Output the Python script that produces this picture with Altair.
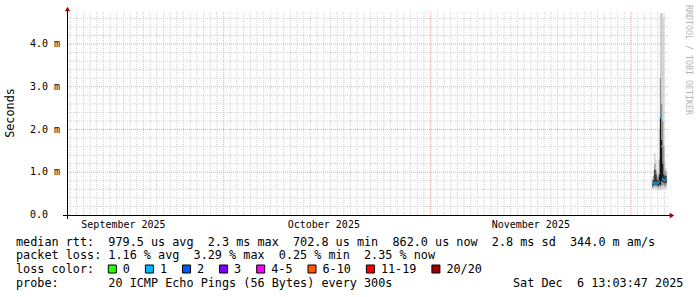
import altair as alt
import pandas as pd
from datetime import datetime, timedelta

# ---------------- data ----------------
start = datetime(2025, 9, 7, 13, 3, 47)
end = datetime(2025, 12, 6, 13, 3, 47)
STEP_H = 4  # hours per consolidated sample

sample_times = ["2025-12-04 04:00", "2025-12-04 08:00", "2025-12-04 12:00", "2025-12-04 16:00",
                "2025-12-04 20:00", "2025-12-05 00:00", "2025-12-05 04:00", "2025-12-05 08:00",
                "2025-12-05 12:00", "2025-12-05 16:00", "2025-12-05 20:00", "2025-12-06 00:00",
                "2025-12-06 04:00"]
rtt_min = [0.60, 0.62, 0.62, 0.60, 0.60, 0.58, 0.60, 0.58, 0.60, 0.60, 0.62, 0.60, 0.62]
rtt_p10 = [0.64, 0.66, 0.68, 0.66, 0.65, 0.64, 0.66, 0.66, 0.70, 0.68, 0.70, 0.66, 0.68]
rtt_p25 = [0.68, 0.70, 0.72, 0.70, 0.70, 0.68, 0.72, 0.70, 0.80, 0.78, 0.76, 0.74, 0.74]
rtt_med = [0.72, 0.75, 0.76, 0.73, 0.76, 0.74, 0.78, 2.28, 1.60, 0.85, 0.82, 0.80, 0.85]
rtt_p75 = [0.76, 0.82, 1.06, 0.95, 0.82, 0.80, 0.95, 2.30, 1.75, 1.20, 0.95, 0.90, 0.92]
rtt_p90 = [0.82, 0.92, 1.20, 1.05, 0.90, 0.88, 1.30, 3.20, 2.60, 2.20, 1.60, 1.05, 1.00]
rtt_max = [0.90, 1.05, 1.45, 1.30, 1.00, 0.98, 2.00, 4.72, 4.72, 4.72, 4.60, 1.25, 1.10]
lost_pings = [1, 1, 1, 1, 1, 1, 1, 1, 1, 1, 1, 1, 1]

loss_labels = ["0", "1", "2", "3", "4-5", "6-10", "11-19", "20/20"]
loss_upper = [0, 1, 2, 3, 5, 10, 19, 20]
loss_colors = ["#26ff00", "#00b8ff", "#0059ff", "#7e00ff", "#ff00ff", "#ff5500", "#ff0000", "#a10000"]

y_tick_values = [0, 1, 2, 3, 4]
y_tick_labels = ["0.0", "1.0 m", "2.0 m", "3.0 m", "4.0 m"]
month_labels = ["September 2025", "October 2025", "November 2025"]
month_label_dates = ["2025-09-16 00:00", "2025-10-16 00:00", "2025-11-16 00:00"]
month_starts = ["2025-10-01 00:00", "2025-11-01 00:00", "2025-12-01 00:00"]

legend_rows = [
    "median rtt:  979.5 us avg  2.3 ms max  702.8 us min  862.0 us now  2.8 ms sd  344.0 m am/s",
    "packet loss: 1.16 % avg  3.29 % max  0.25 % min  2.35 % now",
    "loss color:",
    "probe:       20 ICMP Echo Pings (56 Bytes) every 300s",
]
stamp = "Sat Dec  6 13:03:47 2025"
watermark = "RRDTOOL / TOBI OETIKER"

# ---------------- helpers ----------------
W, H = 601, 203
Y_MAX = 4.75
SPAN = (end - start).total_seconds() / 86400
FONT = "DejaVu Sans Mono"
CH = 7.1  # legend char advance


def keep_spaces(s):
    return s.replace(" ", "\u00a0")


def to_day(s):
    return (datetime.strptime(s, "%Y-%m-%d %H:%M") - start).total_seconds() / 86400


xs = alt.Scale(domain=[0, SPAN], nice=False, zero=False)
ys = alt.Scale(domain=[0, Y_MAX], nice=False, zero=True)


def color_for(n):
    for up, c in zip(loss_upper, loss_colors):
        if n <= up:
            return c
    return loss_colors[-1]


smoke = pd.DataFrame({
    "d0": [to_day(t) for t in sample_times],
    "mn": rtt_min, "p10": rtt_p10, "p25": rtt_p25, "med": rtt_med,
    "p75": rtt_p75, "p90": rtt_p90, "mx": rtt_max,
    "col": [color_for(n) for n in lost_pings],
})
smoke["d1"] = smoke["d0"] + STEP_H / 24.0

# grid positions
first_midnight = datetime(2025, 9, 8)
minor_days = []
d = first_midnight
while d < end:
    minor_days.append((d - start).total_seconds() / 86400)
    d += timedelta(days=1)
grid_minor_x = pd.DataFrame({"d": minor_days})
grid_major_x = pd.DataFrame({"d": [to_day(s) for s in month_starts]})
grid_minor_y = pd.DataFrame({"v": [round(0.2 * i, 1) for i in range(1, 24) if i % 5 != 0]})
grid_major_y = pd.DataFrame({"v": [1, 2, 3, 4]})

layers = []
layers.append(alt.Chart(grid_minor_x).mark_rule(color="#d0d0d0", strokeDash=[1, 1], strokeWidth=1)
              .encode(x=alt.X("d:Q", scale=xs, axis=None)))
layers.append(alt.Chart(grid_minor_y).mark_rule(color="#d0d0d0", strokeDash=[1, 1], strokeWidth=1)
              .encode(y=alt.Y("v:Q", scale=ys, axis=None)))
layers.append(alt.Chart(grid_major_x).mark_rule(color="#f0b4b4", strokeDash=[1, 1], strokeWidth=1)
              .encode(x=alt.X("d:Q", scale=xs, axis=None)))
layers.append(alt.Chart(grid_major_y).mark_rule(color="#e8a4a4", strokeDash=[1, 1], strokeWidth=1)
              .encode(y=alt.Y("v:Q", scale=ys, axis=None)))

# smoke
for lo, hi, c in [("mn", "mx", "#cdcdcd"), ("p10", "p90", "#8c8c8c"), ("p25", "p75", "#141414")]:
    layers.append(alt.Chart(smoke).mark_rect(color=c)
                  .encode(x=alt.X("d0:Q", scale=xs, axis=None), x2="d1:Q",
                          y=alt.Y(f"{lo}:Q", scale=ys, axis=None), y2=f"{hi}:Q"))
layers.append(alt.Chart(smoke).mark_rule(strokeWidth=2)
              .encode(x=alt.X("d0:Q", scale=xs, axis=None), x2="d1:Q",
                      y=alt.Y("med:Q", scale=ys, axis=None),
                      color=alt.Color("col:N", scale=None, legend=None)))

# axes lines + arrows
AX = "#000000"
ARROW = "#990000"
layers.append(alt.Chart().mark_rule(color=AX, strokeWidth=1)
              .encode(x=alt.value(-4), x2=alt.value(603), y=alt.value(203.5)))
layers.append(alt.Chart().mark_rule(color=AX, strokeWidth=1)
              .encode(x=alt.value(0.5), y=alt.value(-2), y2=alt.value(207)))
layers.append(alt.Chart().mark_point(shape="triangle-right", filled=True, color=ARROW, size=28, opacity=1)
              .encode(x=alt.value(605), y=alt.value(203.5)))
layers.append(alt.Chart().mark_point(shape="triangle-up", filled=True, color=ARROW, size=28, opacity=1)
              .encode(x=alt.value(0.5), y=alt.value(-3)))

# y tick labels
ylab = pd.DataFrame({"v": y_tick_values, "t": [keep_spaces(t) for t in y_tick_labels]})
layers.append(alt.Chart(ylab).mark_text(font=FONT, fontSize=10, align="left", baseline="middle", color="#000")
              .encode(x=alt.value(-37), y=alt.Y("v:Q", scale=ys, axis=None), text="t:N"))
# month labels
mlab = pd.DataFrame({"d": [to_day(s) for s in month_label_dates], "t": month_labels})
layers.append(alt.Chart(mlab).mark_text(font=FONT, fontSize=10, align="center", baseline="middle", color="#000")
              .encode(x=alt.X("d:Q", scale=xs, axis=None), y=alt.value(213), text="t:N"))
# y title
layers.append(alt.Chart().mark_text(font=FONT, fontSize=11.8, angle=270, align="center", baseline="middle",
                                    color="#000", text="Seconds")
              .encode(x=alt.value(-57), y=alt.value(101)))
# watermark
layers.append(alt.Chart().mark_text(font=FONT, fontSize=8.3, angle=90, align="left", baseline="middle",
                                    color="#b4b4b4", text=watermark)
              .encode(x=alt.value(621), y=alt.value(-7)))

# legend rows
row_y = [230, 243, 257, 271]
for txt, yy in zip(legend_rows, row_y):
    layers.append(alt.Chart().mark_text(font=FONT, fontSize=11.8, align="left", baseline="middle",
                                        color="#000", text=keep_spaces(txt))
                  .encode(x=alt.value(-51), y=alt.value(yy)))
layers.append(alt.Chart().mark_text(font=FONT, fontSize=11.8, align="left", baseline="middle",
                                    color="#000", text=keep_spaces(stamp))
              .encode(x=alt.value(446), y=alt.value(271)))

# loss color boxes
bx = -51 + 13 * CH
for lab, c in zip(loss_labels, loss_colors):
    layers.append(alt.Chart().mark_square(size=64, color=c, stroke="#000", strokeWidth=1, opacity=1)
                  .encode(x=alt.value(bx + 4), y=alt.value(257)))
    lx = bx + 14.5
    layers.append(alt.Chart().mark_text(font=FONT, fontSize=11.8, align="left", baseline="middle",
                                        color="#000", text=lab)
                  .encode(x=alt.value(lx), y=alt.value(257)))
    bx = lx + len(lab) * CH + 15.5

chart = alt.layer(*layers).properties(
    width=W, height=H,
    padding={"left": 67, "top": 12, "right": 29, "bottom": 82},
    autosize=alt.AutoSizeParams(type="none"),
    background="#ffffff",
).configure_view(stroke=None)

chart.save("out.html", embed_options={"renderer": "svg", "actions": False})
